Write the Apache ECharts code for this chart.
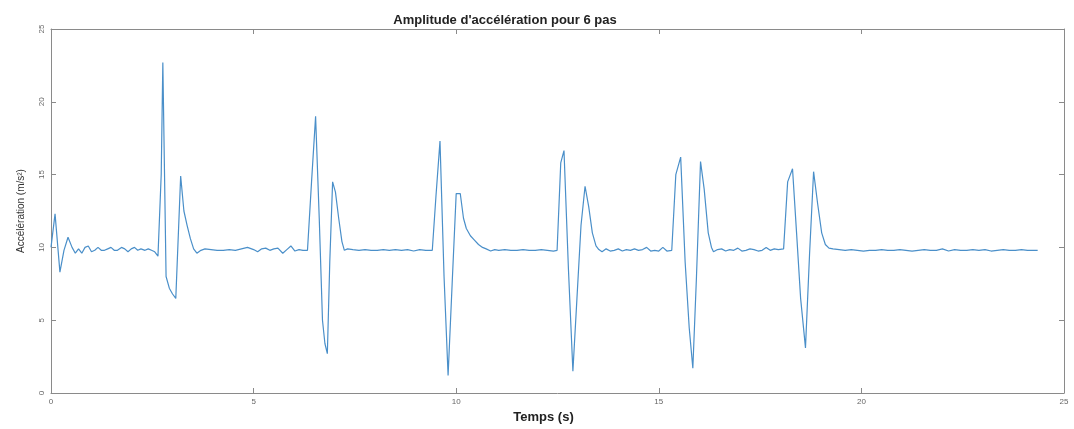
<!DOCTYPE html>
<html>
<head>
<meta charset="utf-8">
<script src="https://cdn.jsdelivr.net/npm/echarts@6/dist/echarts.min.js"></script>
<style>
  html, body { margin: 0; padding: 0; background: #fff; }
  #chart { width: 1074px; height: 429px; }
</style>
</head>
<body>
<div id="chart"></div>
<script>
// temps (s) et amplitude (m/s^2)
var temps = [
  0.00, 0.10, 0.22, 0.32, 0.42, 0.52, 0.60, 0.68, 0.76, 0.84, 0.92, 1.00, 1.08, 1.16, 1.24, 1.32,
  1.40, 1.48, 1.56, 1.64, 1.74, 1.82, 1.90, 1.98, 2.06, 2.14, 2.22, 2.32, 2.40, 2.48, 2.56, 2.64,
  2.72, 2.76, 2.84, 2.92, 3.00, 3.08, 3.20, 3.28, 3.36, 3.44, 3.52, 3.60, 3.70, 3.80, 3.95, 4.10,
  4.25, 4.40, 4.55, 4.70, 4.85, 5.00, 5.10, 5.20, 5.30, 5.40, 5.50, 5.60, 5.72, 5.82, 5.92, 6.02,
  6.12, 6.22, 6.33, 6.43, 6.53, 6.62, 6.70, 6.76, 6.82, 6.88, 6.95, 7.02, 7.10, 7.18, 7.24, 7.32,
  7.45, 7.60, 7.75, 7.90, 8.05, 8.20, 8.35, 8.50, 8.65, 8.80, 8.95, 9.10, 9.25, 9.41,
  9.50, 9.60, 9.70, 9.80, 9.90, 10.00, 10.10, 10.18, 10.25, 10.35, 10.45, 10.55, 10.65, 10.74,
  10.85, 10.95, 11.05, 11.20, 11.35, 11.50, 11.65, 11.80, 11.95, 12.10, 12.25, 12.40, 12.49,
  12.58, 12.66, 12.77, 12.88, 12.98, 13.08, 13.18, 13.27, 13.36, 13.45, 13.52, 13.60, 13.70,
  13.80, 13.90, 14.00, 14.10, 14.20, 14.30, 14.40, 14.50, 14.60, 14.70, 14.80, 14.90, 15.00,
  15.10, 15.20, 15.32, 15.42, 15.54, 15.65, 15.75, 15.84, 15.93, 16.03, 16.12, 16.22, 16.30,
  16.35, 16.45, 16.55, 16.65, 16.75, 16.85, 16.95, 17.05, 17.15, 17.25, 17.35, 17.45, 17.55,
  17.65, 17.75, 17.85, 17.95, 18.08, 18.18, 18.30, 18.40, 18.50, 18.62, 18.72, 18.82, 18.92,
  19.02, 19.11, 19.20, 19.30, 19.45, 19.60, 19.75, 19.90, 20.05, 20.20, 20.35, 20.50, 20.65,
  20.80, 20.95, 21.10, 21.25, 21.40, 21.55, 21.70, 21.85, 22.00, 22.15, 22.30, 22.45, 22.60,
  22.75, 22.90, 23.05, 23.20, 23.35, 23.50, 23.65, 23.80, 23.95, 24.10, 24.25, 24.35
];
var acceleration = [
  10.0, 12.3, 8.3, 9.8, 10.7, 10.0, 9.6, 9.9, 9.6, 10.0, 10.1, 9.7, 9.8, 10.0, 9.8, 9.8,
  9.9, 10.0, 9.8, 9.8, 10.0, 9.9, 9.7, 9.9, 10.0, 9.8, 9.9, 9.8, 9.9, 9.8, 9.7, 9.4,
  15.0, 22.7, 8.0, 7.2, 6.8, 6.5, 14.9, 12.5, 11.5, 10.6, 9.9, 9.6, 9.8, 9.9, 9.85, 9.8,
  9.8, 9.85, 9.8, 9.9, 10.0, 9.85, 9.7, 9.9, 9.95, 9.8, 9.9, 9.95, 9.6, 9.85, 10.1, 9.75,
  9.85, 9.8, 9.8, 14.5, 19.0, 12.0, 5.0, 3.4, 2.7, 9.0, 14.5, 13.8, 12.0, 10.4, 9.8, 9.9,
  9.85, 9.8, 9.85, 9.8, 9.8, 9.85, 9.8, 9.85, 9.8, 9.85, 9.75, 9.85, 9.8, 9.8,
  13.5, 17.3, 8.0, 1.2, 7.5, 13.7, 13.7, 12.0, 11.3, 10.8, 10.5, 10.2, 10.0, 9.9,
  9.75, 9.85, 9.8, 9.85, 9.8, 9.8, 9.85, 9.8, 9.8, 9.85, 9.8, 9.75, 9.8,
  15.8, 16.65, 8.5, 1.5, 6.5, 11.5, 14.2, 12.8, 11.0, 10.1, 9.85, 9.7, 9.9,
  9.75, 9.8, 9.9, 9.75, 9.85, 9.8, 9.9, 9.8, 9.85, 10.0, 9.75, 9.8, 9.75,
  10.0, 9.75, 9.8, 15.0, 16.2, 9.0, 4.5, 1.7, 8.0, 15.9, 14.0, 11.0, 10.0,
  9.7, 9.85, 9.9, 9.75, 9.85, 9.8, 9.95, 9.75, 9.8, 9.9, 9.85, 9.75, 9.8,
  10.0, 9.8, 9.9, 9.85, 9.9, 14.5, 15.4, 11.0, 6.5, 3.1, 9.5, 15.2, 13.0,
  11.0, 10.2, 9.95, 9.9, 9.85, 9.8, 9.85, 9.8, 9.75, 9.8, 9.8, 9.85, 9.8,
  9.8, 9.85, 9.8, 9.75, 9.8, 9.85, 9.8, 9.8, 9.9, 9.75, 9.85, 9.8, 9.8,
  9.85, 9.8, 9.85, 9.75, 9.8, 9.85, 9.8, 9.8, 9.85, 9.8, 9.8, 9.8
];
var ticksX = [0, 5, 10, 15, 20, 25];
var ticksY = [0, 5, 10, 15, 20, 25];

var points = temps.map(function (t, i) { return [t, acceleration[i]]; });

var myChart = echarts.init(document.getElementById('chart'));

var axisGris = '#8a8a8a';
var labelStyle = { color: '#666', fontSize: 8, fontFamily: 'Liberation Sans' };

var option = {
  backgroundColor: '#fff',
  animation: false,
  title: {
    text: "Amplitude d'accélération pour 6 pas",
    left: 500,
    textAlign: 'center',
    top: 9,
    textStyle: { fontSize: 13, fontWeight: 'bold', color: '#222', fontFamily: 'Liberation Sans' }
  },
  grid: { left: 51, right: 10, top: 29, bottom: 34 },
  xAxis: [{
    type: 'value', min: ticksX[0], max: ticksX[ticksX.length - 1], interval: 5,
    name: 'Temps (s)', nameLocation: 'middle', nameGap: 18,
    nameTextStyle: { fontSize: 13, fontWeight: 'bold', color: '#222', fontFamily: 'Liberation Sans', padding: [0, 28, 0, 0] },
    axisLine: { show: true, lineStyle: { color: axisGris, width: 1 } },
    axisTick: { show: true, inside: true, length: 5, lineStyle: { color: axisGris } },
    axisLabel: Object.assign({ margin: 5 }, labelStyle),
    splitLine: { show: false }
  }, {
    type: 'value', position: 'top', min: 0, max: 25, interval: 5,
    axisLine: { show: true, onZero: false, lineStyle: { color: axisGris, width: 1 } },
    axisTick: { show: true, inside: true, length: 5, lineStyle: { color: axisGris } },
    axisLabel: { show: false },
    splitLine: { show: false }
  }],
  yAxis: [{
    type: 'value', min: ticksY[0], max: ticksY[ticksY.length - 1], interval: 5,
    name: 'Accélération (m/s²)', nameLocation: 'middle', nameGap: 25,
    nameTextStyle: { fontSize: 10, color: '#333', fontFamily: 'Liberation Sans' },
    axisLine: { show: true, lineStyle: { color: axisGris, width: 1 } },
    axisTick: { show: true, inside: true, length: 5, lineStyle: { color: axisGris } },
    axisLabel: Object.assign({ margin: 5, rotate: 90 }, labelStyle),
    splitLine: { show: false }
  }, {
    type: 'value', position: 'right', min: 0, max: 25, interval: 5,
    axisLine: { show: true, onZero: false, lineStyle: { color: axisGris, width: 1 } },
    axisTick: { show: true, inside: true, length: 5, lineStyle: { color: axisGris } },
    axisLabel: { show: false },
    splitLine: { show: false }
  }],
  series: [{
    type: 'line',
    data: points,
    showSymbol: false,
    lineStyle: { color: '#4a8fc9', width: 1.2 }
  }]
};

myChart.setOption(option);

window.addEventListener('resize', function () {
  myChart.resize();
});
</script>
</body>
</html>
